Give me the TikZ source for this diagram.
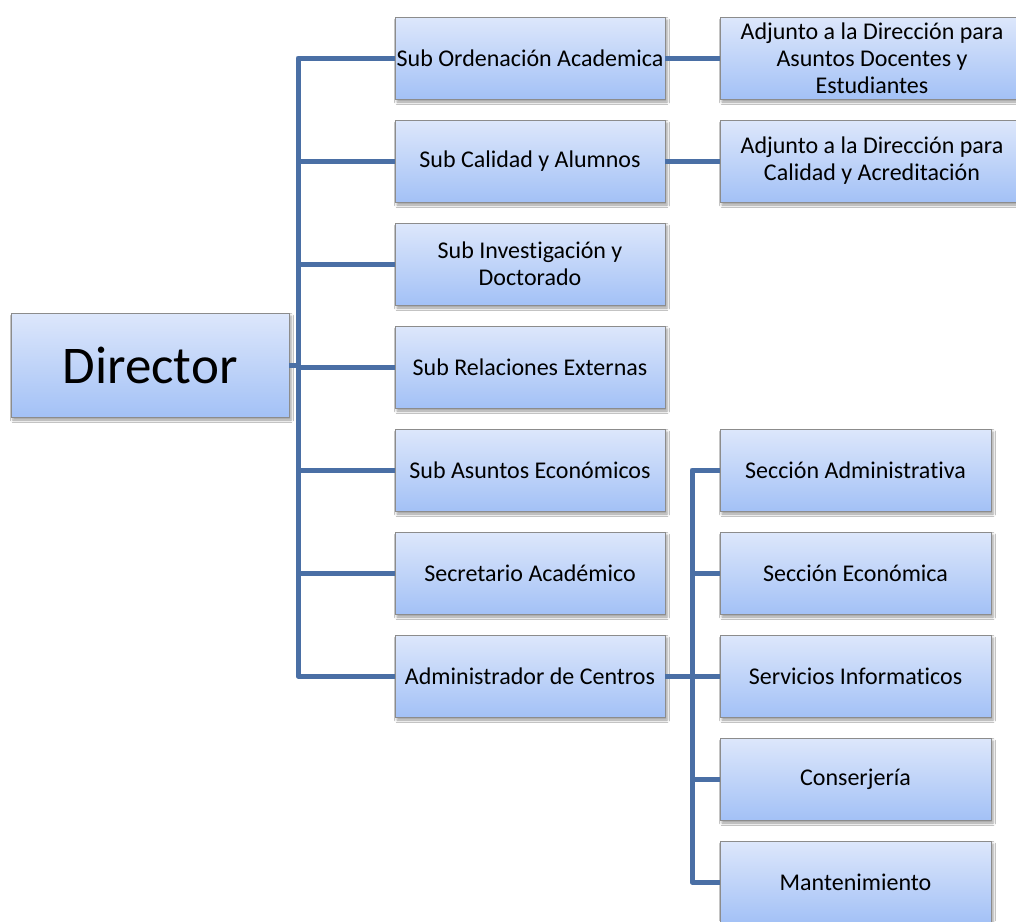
\documentclass[tikz,border=0pt]{standalone}
\usepackage{fontspec}
\setmainfont{Carlito}[Ligatures=NoCommon]
\usetikzlibrary{shadows.blur}
\definecolor{boxtop}{HTML}{DDE7FB}
\definecolor{boxbot}{HTML}{A3C1F6}
\definecolor{boxline}{HTML}{8C8C8C}
\definecolor{conncol}{HTML}{4A6FA5}
\tikzset{
  orgbox/.style={draw=boxline, line width=0.9pt, top color=boxtop, bottom color=boxbot,
    align=center, inner sep=0pt, minimum height=82pt,
    blur shadow={shadow xshift=2pt, shadow yshift=-3pt, shadow blur radius=2.5pt, shadow opacity=40},
    font=\fontsize{24}{27}\selectfont},
  midbox/.style={orgbox, minimum width=270pt},
  rbox/.style={orgbox, minimum width=271pt},
  adjbox/.style={orgbox, minimum width=304pt},
  dirbox/.style={orgbox, minimum width=278pt, minimum height=104pt, font=\fontsize{53}{62}\selectfont},
  conn/.style={draw=conncol, line width=5pt, line join=round, line cap=butt}
}
\begin{document}
\begin{tikzpicture}[x=1pt,y=-1pt]
\useasboundingbox[fill=white] (0,0) rectangle (1016,921);
\coordinate (s) at (298,0);
\coordinate (t) at (692,0);
\node[dirbox] (dir) at (150,365) {Director};
\node[midbox] (sub1) at (530,58) {Sub Ordenación Academica};
\node[midbox] (sub2) at (530,161) {Sub Calidad y Alumnos};
\node[midbox] (sub3) at (530,264) {Sub Investigación y\\Doctorado};
\node[midbox] (sub4) at (530,367) {Sub Relaciones Externas};
\node[midbox] (sub5) at (530,470) {Sub Asuntos Económicos};
\node[midbox] (sub6) at (530,573) {Secretario Académico};
\node[midbox] (sub7) at (530,676) {Administrador de Centros};
\node[adjbox] (adj1) at (872,58) {Adjunto a la Dirección para\\Asuntos Docentes y\\Estudiantes};
\node[adjbox] (adj2) at (872,161) {Adjunto a la Dirección para\\Calidad y Acreditación};
\node[rbox] (sec1) at (855.5,470) {Sección Administrativa};
\node[rbox] (sec2) at (855.5,573) {Sección Económica};
\node[rbox] (sec3) at (855.5,676) {Servicios Informaticos};
\node[rbox] (sec4) at (855.5,779) {Conserjería};
\node[rbox] (sec5) at (855.5,882) {Mantenimiento};
% connectors
\draw[conn] (sub1.west) -- (sub1.west -| s) -- (sub7.west -| s) -- (sub7.west);
\draw[conn] (dir.east) -- (dir.east -| s);
\foreach \k in {2,...,6} { \draw[conn] (sub\k.west) -- (sub\k.west -| s); }
\draw[conn] (sub1.east) -- (adj1.west);
\draw[conn] (sub2.east) -- (adj2.west);
\draw[conn] (sec1.west) -- (sec1.west -| t) -- (sec5.west -| t) -- (sec5.west);
\draw[conn] (sub7.east) -- (sub7.east -| t);
\foreach \k in {2,3,4} { \draw[conn] (sec\k.west) -- (sec\k.west -| t); }
\end{tikzpicture}
\end{document}
